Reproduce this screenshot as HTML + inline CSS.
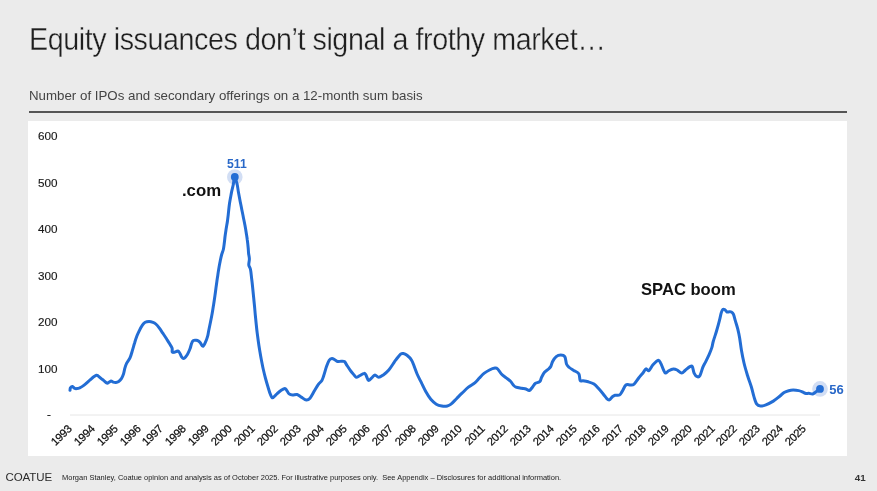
<!DOCTYPE html>
<html><head><meta charset="utf-8">
<style>
*{margin:0;padding:0;box-sizing:border-box}
html,body{width:877px;height:491px;overflow:hidden;background:#EBEBEB;font-family:"Liberation Sans",sans-serif}
.abs{position:absolute}
#title{position:absolute;left:29px;top:21.2px;font-size:30.5px;line-height:36px;color:#1f1f1f;white-space:nowrap;transform-origin:0 0;transform:scaleX(0.94);letter-spacing:-0.45px;-webkit-text-stroke:0.35px #EBEBEB}
#sub{position:absolute;left:29px;top:88px;font-size:13.3px;line-height:15px;color:#444;white-space:nowrap}
#rule{position:absolute;left:29px;top:111px;width:818px;height:2px;background:#555}
#panel{position:absolute;left:28px;top:121px;width:819px;height:335px;background:#fff}
.yt{position:absolute;left:38px;width:20px;font-size:11.7px;line-height:12px;margin-top:-6px;color:#1a1a1a;-webkit-text-stroke:0.15px #1a1a1a}
.yr{position:absolute;top:427px;font-size:11.2px;line-height:11px;color:#111;letter-spacing:-0.25px;-webkit-text-stroke:0.25px #111;transform-origin:100% 50%;transform:translate(-100%,-50%) rotate(-45deg);white-space:nowrap}
#foot-logo{position:absolute;left:5.5px;top:471px;font-size:11.5px;line-height:12px;color:#2b2b2b;letter-spacing:-0.1px}
#foot{position:absolute;left:62px;top:473px;font-size:7.47px;line-height:9px;color:#222;white-space:nowrap}
#pg{position:absolute;left:854.8px;top:473.4px;font-size:9.8px;line-height:10px;font-weight:bold;color:#333}
.lbl{position:absolute;font-weight:bold;color:#111;white-space:nowrap}
</style></head><body>
<div id="wrap" style="position:absolute;left:0;top:0;width:877px;height:491px;will-change:transform">
<div id="title">Equity issuances don’t signal a frothy market…</div>
<div id="sub">Number of IPOs and secondary offerings on a 12-month sum basis</div>
<div id="rule"></div>
<div id="panel"></div>
<div class="yt" style="top:136.4px">600</div><div class="yt" style="top:182.9px">500</div><div class="yt" style="top:229.4px">400</div><div class="yt" style="top:275.9px">300</div><div class="yt" style="top:322.4px">200</div><div class="yt" style="top:368.9px">100</div>
<div class="yt" style="top:414.2px;left:47px">-</div>
<svg class="abs" style="left:0;top:0" width="877" height="491" viewBox="0 0 877 491">
<line x1="70" y1="415" x2="820" y2="415" stroke="#E6E6E6" stroke-width="1"/>
<circle cx="234.8" cy="177" r="7.8" fill="#D2DEF4"/>
<circle cx="820" cy="388.9" r="7.8" fill="#D2DEF4"/>
<path d="M70.0,390.3 C70.1,389.9 70.0,388.5 70.4,387.9 C70.8,387.3 71.8,386.4 72.5,386.5 C73.2,386.6 73.8,387.9 74.5,388.3 C75.2,388.7 76.0,388.7 76.9,388.6 C77.8,388.5 78.7,388.3 79.7,387.9 C80.7,387.4 82.0,386.7 83.1,385.9 C84.2,385.1 85.4,384.1 86.5,383.1 C87.6,382.1 88.8,381.0 89.9,380.0 C91.1,379.0 92.3,377.8 93.4,377.0 C94.5,376.2 95.6,375.5 96.4,375.3 C97.2,375.1 97.3,375.4 98.1,375.9 C98.8,376.4 100.0,377.6 100.9,378.3 C101.8,379.1 102.6,379.6 103.6,380.4 C104.6,381.2 106.1,382.8 107.0,383.1 C107.9,383.4 108.4,382.4 109.1,382.1 C109.8,381.8 110.4,381.1 111.1,381.1 C111.8,381.1 112.4,381.9 113.2,382.1 C114.0,382.3 115.0,382.5 115.9,382.4 C116.8,382.3 117.8,382.0 118.7,381.4 C119.6,380.8 120.6,379.9 121.4,378.7 C122.2,377.4 122.9,375.6 123.5,373.9 C124.1,372.2 124.3,370.2 124.8,368.4 C125.3,366.6 125.8,365.0 126.7,363.2 C127.6,361.4 129.2,359.7 130.1,357.6 C131.0,355.5 131.6,353.2 132.3,350.8 C133.1,348.4 133.8,345.4 134.6,343.0 C135.3,340.6 136.0,338.4 136.8,336.3 C137.6,334.2 138.7,332.0 139.6,330.1 C140.5,328.2 141.5,326.4 142.4,325.1 C143.3,323.8 144.1,322.9 145.2,322.3 C146.3,321.7 147.8,321.5 149.1,321.5 C150.4,321.5 151.9,321.9 153.0,322.3 C154.1,322.7 154.8,323.1 155.8,324.0 C156.8,324.9 158.1,326.4 159.2,327.9 C160.3,329.4 161.4,331.1 162.6,332.9 C163.8,334.7 165.3,336.9 166.5,338.8 C167.7,340.7 168.9,342.5 169.8,344.1 C170.7,345.7 171.7,346.9 172.1,348.2 C172.5,349.5 171.9,351.2 172.2,351.9 C172.5,352.6 173.1,352.4 173.8,352.3 C174.5,352.2 175.6,351.7 176.3,351.5 C177.1,351.3 177.7,350.8 178.3,351.1 C178.9,351.4 179.4,352.6 180.0,353.5 C180.6,354.4 181.0,356.0 181.6,356.8 C182.2,357.6 182.9,358.4 183.6,358.4 C184.3,358.4 184.9,357.7 185.7,356.8 C186.4,355.9 187.4,354.5 188.1,353.1 C188.8,351.7 189.5,350.3 190.1,348.6 C190.7,346.9 191.2,344.2 191.8,342.9 C192.4,341.5 192.7,340.9 193.4,340.5 C194.1,340.1 195.0,340.2 195.8,340.3 C196.6,340.4 197.5,340.4 198.3,340.9 C199.1,341.3 199.7,342.1 200.5,343.0 C201.3,343.9 202.1,346.6 203.0,346.3 C203.9,346.0 205.1,342.8 205.9,341.1 C206.7,339.4 207.2,337.6 207.7,335.9 C208.2,334.2 208.2,333.0 208.7,330.7 C209.2,328.4 209.9,324.9 210.5,322.0 C211.1,319.1 211.7,316.2 212.2,313.3 C212.7,310.4 213.1,307.6 213.6,304.7 C214.1,301.8 214.5,298.7 214.9,296.0 C215.3,293.3 215.6,291.0 215.9,288.5 C216.2,286.0 216.6,283.5 216.9,281.2 C217.2,278.9 217.6,276.8 217.9,274.5 C218.2,272.2 218.6,269.8 219.0,267.5 C219.4,265.2 219.9,262.7 220.3,260.5 C220.8,258.3 221.2,256.4 221.7,254.5 C222.2,252.6 223.0,251.1 223.4,249.2 C223.8,247.3 224.0,245.2 224.3,243.0 C224.6,240.8 224.8,238.4 225.1,236.0 C225.4,233.6 225.8,231.2 226.2,228.6 C226.6,226.0 227.2,223.1 227.5,220.7 C227.8,218.3 228.0,217.0 228.3,214.1 C228.6,211.2 229.0,207.0 229.5,203.5 C230.0,200.0 230.8,196.1 231.4,192.9 C232.0,189.7 232.8,187.1 233.3,184.5 C233.8,181.9 234.0,177.7 234.6,177.6 C235.2,177.5 236.5,181.6 237.1,184.0 C237.7,186.4 237.9,189.3 238.4,192.0 C238.9,194.7 239.4,197.3 239.9,200.0 C240.4,202.7 241.0,205.3 241.5,208.0 C242.0,210.7 242.6,213.3 243.1,216.0 C243.6,218.7 244.2,221.3 244.7,224.0 C245.2,226.7 245.7,229.3 246.1,232.0 C246.5,234.7 247.0,237.3 247.3,240.0 C247.7,242.7 248.0,245.8 248.2,248.0 C248.4,250.2 248.4,251.7 248.6,253.5 C248.8,255.3 249.4,257.1 249.4,259.0 C249.4,260.9 248.6,263.2 248.8,265.0 C249.0,266.8 250.0,267.2 250.5,269.5 C251.0,271.8 251.3,275.9 251.7,279.0 C252.1,282.1 252.4,285.0 252.7,288.0 C253.0,291.0 253.3,294.0 253.6,297.0 C253.9,300.0 254.2,303.0 254.5,306.0 C254.8,309.0 255.0,312.0 255.3,315.0 C255.6,318.0 255.9,321.0 256.2,324.0 C256.5,327.0 256.8,330.0 257.2,333.0 C257.6,336.0 258.0,339.0 258.4,342.0 C258.8,345.0 259.3,348.0 259.8,351.0 C260.3,354.0 260.8,357.0 261.4,360.0 C262.0,363.0 262.5,366.0 263.2,369.0 C263.9,372.0 264.6,375.0 265.4,378.0 C266.2,381.0 267.2,384.4 268.0,387.0 C268.8,389.6 269.4,392.1 270.2,393.9 C271.0,395.7 271.5,397.8 272.6,397.8 C273.7,397.8 275.5,395.1 276.9,393.9 C278.3,392.6 279.9,391.2 281.2,390.3 C282.5,389.4 284.0,388.4 284.9,388.4 C285.8,388.4 286.0,389.4 286.7,390.3 C287.4,391.2 288.1,393.1 289.1,393.9 C290.1,394.7 291.3,395.0 292.6,395.1 C293.9,395.2 295.6,394.1 297.1,394.5 C298.6,394.9 300.2,396.5 301.7,397.4 C303.2,398.3 304.9,399.9 306.3,400.0 C307.7,400.1 308.6,399.8 310.0,398.2 C311.4,396.6 313.2,392.8 314.6,390.5 C316.0,388.2 317.0,386.3 318.2,384.6 C319.4,382.9 321.0,381.9 321.9,380.4 C322.8,378.9 322.9,378.1 323.7,375.8 C324.5,373.5 325.6,369.2 326.5,366.6 C327.4,364.0 328.3,361.6 329.2,360.2 C330.1,358.8 331.1,358.5 332.0,358.4 C332.9,358.3 333.8,359.2 334.7,359.7 C335.6,360.2 336.4,361.2 337.5,361.5 C338.6,361.8 340.0,361.2 341.1,361.2 C342.2,361.2 343.5,360.9 344.4,361.5 C345.3,362.1 345.6,363.3 346.6,364.8 C347.6,366.3 349.1,368.6 350.3,370.3 C351.5,372.0 353.0,373.7 354.0,374.9 C355.0,376.1 355.3,377.1 356.2,377.3 C357.1,377.5 358.2,376.5 359.5,375.8 C360.8,375.1 362.9,373.5 364.0,373.4 C365.1,373.2 365.1,373.7 365.9,374.9 C366.7,376.1 367.5,380.0 368.6,380.4 C369.7,380.8 371.2,378.2 372.3,377.3 C373.4,376.4 373.9,374.9 375.0,374.9 C376.1,374.9 377.3,377.3 378.7,377.3 C380.1,377.3 381.6,376.1 383.3,374.9 C385.0,373.7 387.0,372.1 388.8,370.0 C390.6,367.9 393.1,363.8 394.3,362.1 C395.5,360.4 394.9,361.0 396.0,359.7 C397.1,358.4 399.4,355.2 400.6,354.2 C401.8,353.2 402.2,353.3 403.3,353.5 C404.4,353.7 405.6,354.2 407.0,355.3 C408.4,356.4 410.4,358.3 411.6,360.2 C412.8,362.1 413.4,364.3 414.3,366.6 C415.2,368.9 415.9,371.2 417.1,374.0 C418.3,376.8 420.1,380.1 421.6,383.1 C423.1,386.2 424.7,389.6 426.2,392.3 C427.7,395.0 429.1,397.3 430.8,399.3 C432.5,401.3 434.5,403.1 436.3,404.2 C438.1,405.3 440.0,405.7 441.8,406.0 C443.6,406.3 445.8,406.3 447.3,406.0 C448.8,405.7 449.5,405.4 451.0,404.2 C452.5,403.0 454.7,400.5 456.5,398.7 C458.3,396.9 460.0,395.1 462.0,393.2 C464.0,391.3 466.3,388.9 468.4,387.2 C470.5,385.5 473.0,384.3 474.8,382.8 C476.6,381.3 477.9,379.6 479.4,378.0 C480.9,376.4 482.3,374.7 484.0,373.4 C485.7,372.1 487.7,370.9 489.5,370.0 C491.3,369.1 493.6,368.3 495.0,368.1 C496.4,367.9 496.6,368.0 497.7,369.0 C498.8,370.0 500.0,372.6 501.4,374.0 C502.8,375.4 504.4,376.4 505.9,377.6 C507.4,378.8 509.3,380.1 510.5,381.3 C511.7,382.5 512.4,384.0 513.3,385.0 C514.2,386.0 514.6,386.6 516.0,387.2 C517.4,387.8 519.8,388.0 521.5,388.3 C523.2,388.6 524.7,388.6 526.0,389.0 C527.3,389.4 528.2,390.8 529.3,390.5 C530.4,390.2 531.4,388.4 532.4,387.2 C533.4,386.0 534.0,384.4 535.2,383.5 C536.4,382.6 538.6,382.7 539.7,381.7 C540.8,380.7 540.8,378.8 541.6,377.3 C542.4,375.8 543.2,373.8 544.3,372.5 C545.4,371.2 546.9,370.4 548.0,369.4 C549.1,368.4 549.9,367.9 550.7,366.6 C551.5,365.3 551.7,363.2 552.6,361.5 C553.5,359.8 554.8,357.7 556.2,356.6 C557.6,355.5 559.4,355.1 560.8,355.1 C562.2,355.1 563.8,355.1 564.8,356.6 C565.8,358.1 565.8,362.2 566.5,364.0 C567.2,365.8 568.1,366.4 569.3,367.5 C570.5,368.6 572.2,369.3 573.8,370.4 C575.4,371.4 577.7,372.1 578.8,373.8 C579.9,375.5 579.5,379.3 580.2,380.5 C580.9,381.7 581.6,380.6 583.0,380.8 C584.4,381.0 586.5,381.3 588.3,381.8 C590.1,382.3 592.3,382.9 594.0,384.0 C595.7,385.1 597.1,386.9 598.6,388.6 C600.1,390.3 601.8,392.3 603.2,394.0 C604.6,395.7 605.8,397.6 606.8,398.6 C607.8,399.6 608.4,400.2 609.4,399.9 C610.4,399.6 611.6,397.4 612.5,396.6 C613.4,395.8 613.8,395.5 615.0,395.2 C616.2,394.9 618.3,395.6 619.5,395.0 C620.7,394.4 621.1,393.1 622.2,391.4 C623.3,389.7 624.5,386.1 625.9,385.0 C627.3,383.9 629.0,385.1 630.4,385.0 C631.8,384.9 632.7,385.3 634.1,384.1 C635.5,382.9 637.2,379.9 638.7,378.0 C640.2,376.1 642.1,374.0 643.3,372.5 C644.5,371.0 645.1,369.1 646.0,368.8 C646.9,368.5 647.6,371.4 648.8,370.7 C650.0,370.0 651.6,366.2 653.2,364.5 C654.8,362.8 657.0,360.4 658.2,360.2 C659.4,359.9 659.8,361.5 660.6,363.0 C661.5,364.5 662.5,367.7 663.3,369.4 C664.1,371.1 664.6,372.9 665.5,373.1 C666.4,373.3 667.5,371.4 668.8,370.7 C670.1,370.0 672.0,369.1 673.4,369.0 C674.8,368.9 675.7,369.3 677.1,370.0 C678.5,370.7 680.3,373.1 681.7,373.1 C683.1,373.2 683.9,371.4 685.3,370.3 C686.7,369.2 688.7,367.2 689.9,366.6 C691.1,366.0 691.6,365.5 692.3,366.6 C693.0,367.7 693.3,371.4 694.1,373.1 C694.9,374.8 696.2,376.3 697.2,376.7 C698.2,377.1 699.1,376.9 700.0,375.4 C700.9,373.9 701.8,369.8 702.7,367.6 C703.6,365.4 704.4,364.2 705.5,362.1 C706.6,360.0 708.0,357.1 709.1,354.7 C710.2,352.2 711.2,349.6 711.9,347.4 C712.6,345.2 712.5,343.9 713.3,341.3 C714.0,338.7 715.4,334.9 716.4,331.5 C717.4,328.1 718.6,323.8 719.4,320.6 C720.2,317.5 720.7,314.5 721.3,312.6 C721.9,310.7 722.3,309.8 722.9,309.3 C723.5,308.8 724.2,309.4 724.9,309.8 C725.6,310.2 726.3,311.7 727.0,312.0 C727.7,312.3 728.5,311.8 729.2,311.8 C729.9,311.8 730.7,311.6 731.4,312.0 C732.1,312.4 732.9,313.0 733.5,314.4 C734.1,315.8 734.6,318.2 735.3,320.6 C736.0,323.1 737.1,326.2 737.8,329.1 C738.5,332.0 739.0,334.2 739.6,337.7 C740.2,341.2 740.7,345.8 741.4,350.0 C742.1,354.2 743.0,358.7 744.0,363.0 C745.0,367.3 746.4,371.8 747.6,375.8 C748.8,379.8 750.2,383.3 751.3,386.8 C752.4,390.3 753.1,394.0 754.0,396.9 C754.9,399.8 755.7,402.7 756.8,404.2 C757.9,405.7 758.9,405.9 760.4,406.0 C761.9,406.1 763.8,405.6 765.9,404.8 C768.0,404.0 771.0,402.5 773.3,401.1 C775.6,399.7 777.9,397.7 779.7,396.3 C781.5,394.9 782.6,393.4 784.1,392.5 C785.6,391.6 787.2,391.1 788.7,390.7 C790.2,390.3 791.5,390.1 793.2,390.1 C794.9,390.1 797.2,390.3 798.7,390.6 C800.2,390.9 801.2,391.4 802.4,391.9 C803.6,392.4 804.9,393.3 806.0,393.5 C807.1,393.7 807.7,393.2 808.8,393.3 C809.9,393.4 811.3,394.1 812.4,394.0 C813.5,393.9 814.2,393.0 815.1,392.4 C816.0,391.8 817.1,391.1 817.9,390.5 C818.7,389.9 819.6,389.2 820.0,388.9" fill="none" stroke="#236DD4" stroke-width="3" stroke-linejoin="round" stroke-linecap="round"/>
<circle cx="234.8" cy="177" r="3.9" fill="#236DD4"/>
<circle cx="820" cy="388.9" r="3.9" fill="#236DD4"/>
</svg>
<div class="yr" style="left:69.6px">1993</div><div class="yr" style="left:92.6px">1994</div><div class="yr" style="left:115.5px">1995</div><div class="yr" style="left:138.5px">1996</div><div class="yr" style="left:161.4px">1997</div><div class="yr" style="left:184.4px">1998</div><div class="yr" style="left:207.4px">1999</div><div class="yr" style="left:230.3px">2000</div><div class="yr" style="left:253.3px">2001</div><div class="yr" style="left:276.2px">2002</div><div class="yr" style="left:299.2px">2003</div><div class="yr" style="left:322.2px">2004</div><div class="yr" style="left:345.1px">2005</div><div class="yr" style="left:368.1px">2006</div><div class="yr" style="left:391.0px">2007</div><div class="yr" style="left:414.0px">2008</div><div class="yr" style="left:437.0px">2009</div><div class="yr" style="left:459.9px">2010</div><div class="yr" style="left:482.9px">2011</div><div class="yr" style="left:505.8px">2012</div><div class="yr" style="left:528.8px">2013</div><div class="yr" style="left:551.8px">2014</div><div class="yr" style="left:574.7px">2015</div><div class="yr" style="left:597.7px">2016</div><div class="yr" style="left:620.6px">2017</div><div class="yr" style="left:643.6px">2018</div><div class="yr" style="left:666.6px">2019</div><div class="yr" style="left:689.5px">2020</div><div class="yr" style="left:712.5px">2021</div><div class="yr" style="left:735.4px">2022</div><div class="yr" style="left:758.4px">2023</div><div class="yr" style="left:781.4px">2024</div><div class="yr" style="left:804.3px">2025</div>
<div class="lbl" style="left:227px;top:157px;font-size:12.2px;color:#2968C8">511</div>
<div class="lbl" style="left:829.3px;top:382.3px;font-size:13px;color:#2968C8">56</div>
<div class="lbl" style="left:181.9px;top:181px;font-size:16.8px">.com</div>
<div class="lbl" style="left:641px;top:279.5px;font-size:16.6px">SPAC boom</div>
<div id="foot-logo">COATUE</div>
<div id="foot">Morgan Stanley, Coatue opinion and analysis as of October 2025. For illustrative purposes only.&nbsp; See Appendix – Disclosures for additional information.</div>
<div id="pg">41</div>
</div>
</body></html>
